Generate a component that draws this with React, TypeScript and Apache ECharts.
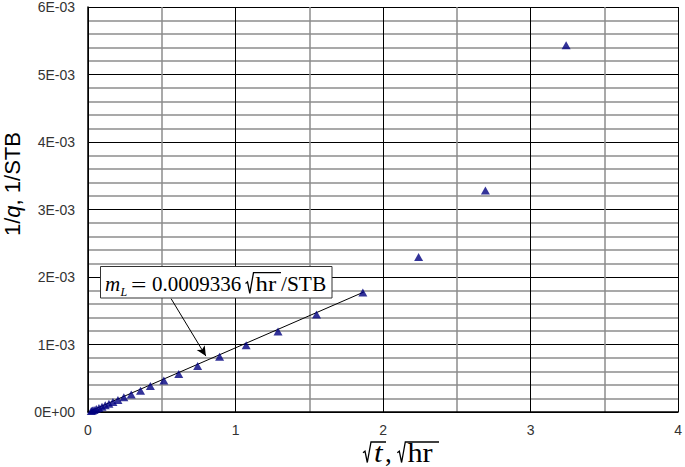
import React, { useEffect, useRef } from "react";
import * as echarts from "echarts";

// Data: sqrt(t) [sqrt(hr)] and 1/q [1/STB]
const sqrtT = [0.022, 0.03, 0.041, 0.056, 0.074, 0.095, 0.117, 0.142, 0.169, 0.203, 0.243, 0.293, 0.356, 0.423, 0.514, 0.615, 0.743, 0.892, 1.072, 1.288, 1.549, 1.863, 2.241, 2.694, 3.241];
const invQ = [0.000014, 0.000021, 0.00003, 0.000044, 0.000059, 0.000079, 0.000099, 0.000123, 0.000148, 0.000177, 0.000217, 0.000261, 0.000315, 0.000384, 0.000468, 0.000562, 0.00068, 0.000817, 0.00099, 0.001192, 0.001444, 0.001769, 0.002295, 0.003281, 0.005434];

// Straight-line fit drawn in the reference
const fitX = [0, 1.87];
const fitY = [0, 0.001778];

// Arrow from annotation box to the fit line (data coordinates)
const arrowFrom = [0.563, 0.00168];
const arrowTo = [0.799, 0.000828];

const xTicks = [0, 1, 2, 3, 4];
const yTickLabels = ["0E+00", "1E-03", "2E-03", "3E-03", "4E-03", "5E-03", "6E-03"];
const slopeText = "0.0009336";

export default function App() {
  const ref = useRef<HTMLDivElement>(null);
  useEffect(() => {
    if (!ref.current) return;
    const chart = echarts.init(ref.current, undefined, { renderer: "svg" });
    const serif = "'Liberation Serif', 'DejaVu Serif', serif";
    const sans = "'Liberation Sans', Arial, sans-serif";

    // serif text placed by its baseline (SVG 'central' baseline ~ 0.3375em above)
    const stxt = (x: number, base: number, text: string, size: number, italic = false, scaleX = 1, z = 11) => ({
      type: "text",
      x,
      y: base - 0.3375 * size,
      scaleX,
      z,
      style: {
        text,
        fontFamily: serif,
        fontSize: size,
        fontStyle: italic ? "italic" : "normal",
        fill: "#000",
        align: "left",
        verticalAlign: "middle",
      },
    });
    const radical = (x0: number, yTop: number, yBot: number, xEnd: number, z = 11) => ({
      type: "polyline",
      z,
      shape: {
        points: [
          [x0, yTop + (yBot - yTop) * 0.52],
          [x0 + 2, yTop + (yBot - yTop) * 0.45],
          [x0 + 4.3, yBot],
          [x0 + 8, yTop],
          [xEnd, yTop],
        ],
      },
      style: { stroke: "#000", lineWidth: 1.3, fill: null },
    });

    chart.setOption({
      animation: false,
      backgroundColor: "#ffffff",
      grid: { left: 88, right: 5, top: 6, bottom: 55, containLabel: false },
      xAxis: {
        type: "value",
        min: xTicks[0],
        max: xTicks[xTicks.length - 1],
        interval: 1,
        axisLine: { show: true, onZero: false, lineStyle: { color: "#000", width: 1.5 } },
        axisTick: { show: false },
        axisLabel: { color: "#333", fontSize: 14, fontFamily: sans, margin: 11 },
        splitLine: { show: true, lineStyle: { color: "#000", width: 1 } },
        minorTick: { show: false, splitNumber: 2 },
        minorSplitLine: { show: true, lineStyle: { color: "#8c8c8c", width: 1.5 } },
      },
      yAxis: {
        type: "value",
        min: 0,
        max: 0.006,
        interval: 0.001,
        axisLine: { show: true, onZero: false, lineStyle: { color: "#000", width: 1.5 } },
        axisTick: { show: false },
        axisLabel: {
          color: "#333",
          fontSize: 14,
          fontFamily: sans,
          margin: 13,
          formatter: (v: number) => yTickLabels[Math.round(v * 1000)] ?? "",
        },
        splitLine: { show: true, lineStyle: { color: "#000", width: 1 } },
        minorTick: { show: false, splitNumber: 5 },
        minorSplitLine: { show: true, lineStyle: { color: "#8c8c8c", width: 1.5 } },
      },
      series: [
        {
          type: "line",
          data: fitX.map((x, i) => [x, fitY[i]]),
          showSymbol: false,
          symbol: "none",
          lineStyle: { color: "#000", width: 1 },
          z: 3,
          markLine: {
            silent: true,
            symbol: ["none", "arrow"],
            symbolSize: [7, 10],
            label: { show: false },
            lineStyle: { color: "#000", width: 1, type: "solid" },
            data: [[{ coord: arrowFrom }, { coord: arrowTo }]],
          },
        },
        {
          type: "scatter",
          data: sqrtT.map((x, i) => [x, invQ[i]]),
          symbol: "triangle",
          symbolSize: [9, 8],
          itemStyle: { color: "#000080" },
          z: 4,
        },
      ],
      graphic: [
        // Y axis title
        {
          type: "text",
          x: 12,
          y: 184,
          rotation: Math.PI / 2,
          style: {
            text: "{a|1/}{i|q}{a|, 1/STB}",
            align: "center",
            verticalAlign: "middle",
            rich: {
              a: { fontFamily: sans, fontSize: 22, fill: "#000" },
              i: { fontFamily: sans, fontSize: 22, fontStyle: "italic", fill: "#000" },
            },
          },
        },
        // X axis title: √t, √hr
        radical(363, 442, 462.5, 386, 5),
        stxt(374, 462, "t", 27, true, 1.15, 5),
        stxt(385, 462, ",", 27, false, 1, 5),
        radical(397.3, 442, 462.5, 439, 5),
        stxt(407.5, 462, "h", 27, false, 1.12, 5),
        stxt(422.5, 462, "r", 27, false, 1.12, 5),
        // Annotation box
        {
          type: "rect",
          z: 10,
          shape: { x: 100.5, y: 266.5, width: 231.5, height: 31.5 },
          style: { fill: "#fff", stroke: "#333", lineWidth: 1 },
        },
        stxt(105, 291.3, "m", 21, true),
        stxt(120.5, 296, "L", 12, true),
        stxt(131, 291.3, "=", 21, false, 1.3),
        stxt(152, 291.3, slopeText, 21),
        radical(245.5, 272.7, 293.3, 281),
        stxt(255.5, 291.3, "h", 21, false, 1.18),
        stxt(268, 291.3, "r", 21, false, 1.18),
        stxt(281, 291.3, "/STB", 21, false, 1.02),
      ],
    });
    return () => chart.dispose();
  }, []);
  return <div ref={ref} style={{ position: "absolute", left: 0, top: 0, width: 685, height: 467 }} />;
}
